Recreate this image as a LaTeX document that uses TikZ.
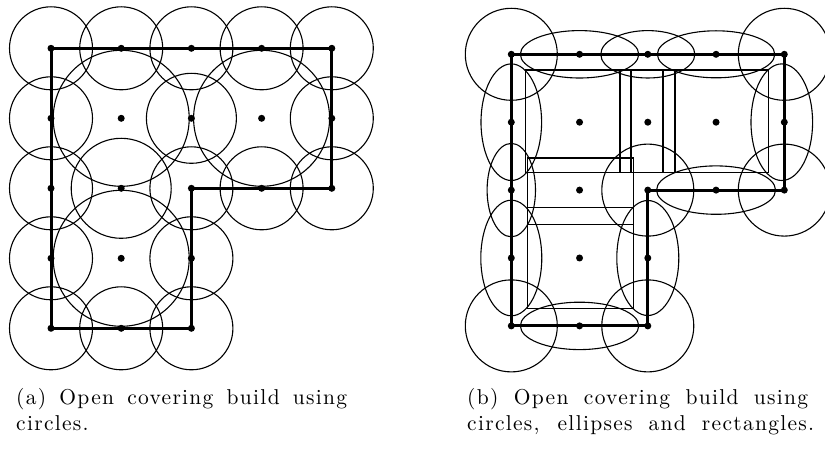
\documentclass[tikz,border=0pt]{standalone}
\usepackage{fontspec}
\newfontfamily\capfont{lmroman10-regular.otf}[LetterSpace=6]

\begin{document}
\begin{tikzpicture}[
  x=1pt, y=-1pt,
  ring/.style={draw=black, line width=1.1pt},
  border/.style={draw=black, line width=3pt, line join=miter},
  dot/.style={fill=black},
  caption/.style={anchor=base west, inner sep=0pt, align=left, font=\capfont\fontsize{21.5}{26}\selectfont},
]
  \useasboundingbox (0,0) rectangle (825,462);

  % grid points of both L shapes
  \foreach \i in {0,...,4}{
    \foreach \j in {0,...,4}{
      \coordinate (a\i\j) at (51+70.2*\i, 48.3+70*\j);
      \coordinate (b\i\j) at (511.3+68.25*\i, 54.3+67.9*\j);
    }
  }

  % (a) circles only
  \foreach \p in {00,10,20,30,40,01,41,02,22,32,42,03,23,04,14,24}
    \draw[ring] (a\p) circle (41.5);
  \draw[ring] (a21) circle (45);
  \draw[ring] (a12) circle (50);
  \foreach \p in {11,31,13}
    \draw[ring] (a\p) circle (68);
  \draw[border] (a00) -- (a40) -- (a42) -- (a22) -- (a24) -- (a04) -- cycle;

  % (b) circles, ellipses and rectangles
  \foreach \p in {00,40,22,42,04,24}
    \draw[ring] (b\p) circle (46);
  \draw[ring] (b10) ellipse [x radius=59.2, y radius=23.7];
  \draw[ring] (b20) ellipse [x radius=47, y radius=23.7];
  \draw[ring] (b30) ellipse [x radius=58.7, y radius=23.5];
  \draw[ring] (b01) ellipse [x radius=30.3, y radius=58.3];
  \draw[ring] (b02) ellipse [x radius=24.2, y radius=46.7];
  \draw[ring] (b03) ellipse [x radius=30.5, y radius=57.8];
  \draw[ring] (b14) ellipse [x radius=59.2, y radius=23.7];
  \draw[ring] (b23) ellipse [x radius=31, y radius=57.5];
  \draw[ring] (b32) ellipse [x radius=59.5, y radius=24.2];
  \draw[ring] ([xshift=-2.5pt]b41) ellipse [x radius=30.8, y radius=58.3];
  \draw[ring] (525.5,70) rectangle (631,172.5);
  \draw[ring] (620,70) rectangle (675,172.5);
  \draw[ring] (663,70) rectangle (768.5,172.5);
  \draw[ring] (527.5,158) rectangle (633.3,224.3);
  \draw[ring] (527.5,207.7) rectangle (633.3,308.3);
  \draw[border] (b00) -- (b40) -- (b42) -- (b22) -- (b24) -- (b04) -- cycle;

  % points
  \foreach \p in {00,10,20,30,40,01,11,21,31,41,02,12,22,32,42,03,13,23,04,14,24}{
    \fill[dot] (a\p) circle (3.5);
    \fill[dot] (b\p) circle (3.5);
  }

  \node[caption] (capa) at (16,430) {\makebox[331pt][s]{(a) Open covering build using}\\circles.};
  \node[caption] (capb) at (467,430) {\makebox[341pt][s]{(b) Open covering build using}\\\makebox[347pt][s]{circles, ellipses and rectangles.}};
\end{tikzpicture}
\end{document}
